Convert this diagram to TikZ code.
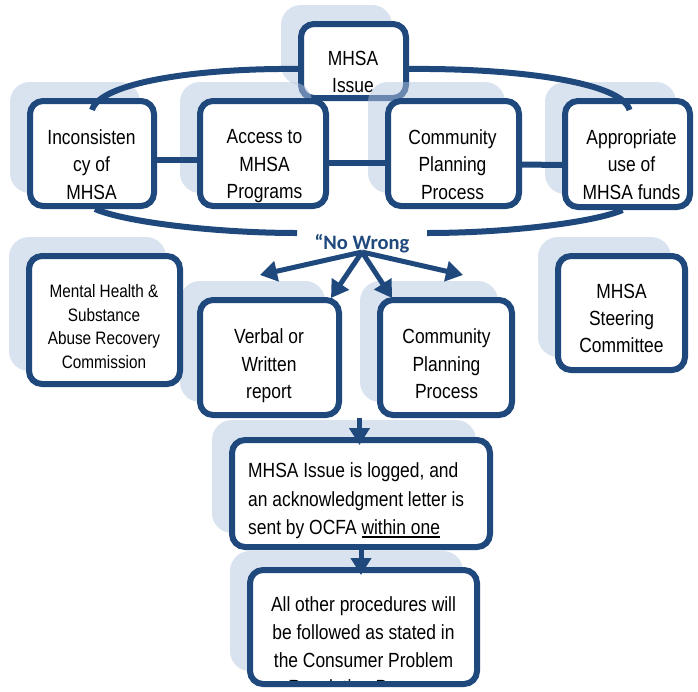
\documentclass[tikz,border=0pt]{standalone}
\usepackage{fontspec}
\setmainfont{Liberation Sans}[FakeStretch=0.85]
\newfontfamily\nwfont{Carlito}
\usetikzlibrary{arrows.meta,calc}
\definecolor{dkblue}{HTML}{1F497D}
\definecolor{shblue}{HTML}{B5C7E1}
\newcommand\myul[1]{\setbox0\hbox{#1}\rlap{\rule[-3pt]{\wd0}{1.7pt}}#1}
\begin{document}
\begin{tikzpicture}[x=1pt,y=-1pt,
  box/.style={draw=dkblue, line width=6pt, fill=white, rounded corners=13pt, inner sep=0pt},
  shad/.style={fill=shblue, fill opacity=0.5, rounded corners=20pt, draw=none, inner sep=0pt},
  txt/.style={inner sep=0pt, align=center, font=\fontsize{20.5}{27.5}\selectfont,
    execute at begin node=\strut, execute at end node=\strut},
  conn/.style={draw=dkblue, line width=6pt},
  arr/.style={draw=dkblue, line width=5pt, -{Triangle[length=17pt,width=20pt]}}]
\path[use as bounding box, fill=white] (0,0) rectangle (698,691);

% top issue box
\node[shad, minimum width=111pt, minimum height=80pt] (issueS) at (336.5,45) {};
\node[box, minimum width=105pt, minimum height=74pt] (issue) at (353.5,61) {};
\node[txt] (isst) at (353,76) {MHSA\\Issue};

% shadows
\node[shad, minimum width=130pt, minimum height=111pt] (incS) at (75,137.5) {};
\node[shad, minimum width=132pt, minimum height=111pt] (accS) at (246,137.5) {};
\node[shad, minimum width=137pt, minimum height=111pt] (cppS) at (436.5,137.5) {};
\node[shad, minimum width=131pt, minimum height=112pt] (appS) at (610.5,138) {};
\node[shad, minimum width=157pt, minimum height=134pt] (mhS) at (87.5,304) {};
\node[shad, minimum width=145pt, minimum height=121pt] (verbS) at (252.5,341.5) {};
\node[shad, minimum width=138pt, minimum height=121pt] (cpp2S) at (429,341.5) {};
\node[shad, minimum width=133pt, minimum height=120pt] (steerS) at (604.5,297) {};
\node[shad, minimum width=264pt, minimum height=113pt] (loggedS) at (344,476.5) {};
\node[shad, minimum width=233pt, minimum height=120pt] (otherS) at (346.5,611) {};

% row 1
\node[box, minimum width=124pt, minimum height=105pt] (inc) at (92,153.5) {};
\node[txt] (inct) at (91.5,168.5) {Inconsisten\\cy of\\MHSA};
\node[box, minimum width=126pt, minimum height=105pt] (acc) at (263,153.5) {};
\node[txt] (acct) at (264.5,168.5) {Access to\\MHSA\\Programs};
\node[box, minimum width=131pt, minimum height=105pt] (cpp) at (453.5,153.5) {};
\node[txt] (cppt) at (452.5,168.5) {Community\\Planning\\Process};
\node[box, minimum width=125pt, minimum height=106pt] (app) at (627.5,154) {};
\node[txt] (appt) at (631.5,168.5) {Appropriate\\use of\\MHSA funds};

% row 2
\node[box, minimum width=151pt, minimum height=128pt] (mh) at (104.5,320) {};
\node[txt, font=\fontsize{18}{23.7}\selectfont] (mht) at (104,330) {Mental Health \&\\Substance\\Abuse Recovery\\Commission};
\node[box, minimum width=139pt, minimum height=115pt] (verb) at (269.5,357.5) {};
\node[txt] (verbt) at (269,367.8) {Verbal or\\Written\\report};
\node[box, minimum width=132pt, minimum height=115pt] (cpp2) at (446,357.5) {};
\node[txt] (cpp2t) at (446.5,367.8) {Community\\Planning\\Process};
\node[box, minimum width=127pt, minimum height=114pt] (steer) at (621.5,313) {};
\node[txt, font=\fontsize{20.5}{27}\selectfont] (steert) at (621.5,322) {MHSA\\Steering\\Committee};

% row 3 and 4
\node[box, minimum width=258pt, minimum height=107pt] (logged) at (361,493.5) {};
\node[txt, align=left, anchor=west, font=\fontsize{20.5}{28.5}\selectfont] (loggedt) at (248,503)
  {MHSA Issue is logged, and\\an acknowledgment letter is\\sent by OCFA \myul{within one}};
\node[box, minimum width=227pt, minimum height=114pt,
  path picture={\node[txt, font=\fontsize{20.5}{27.7}\selectfont] (othert) at ([yshift=-23pt]path picture bounding box.center)
    {All other procedures will\\be followed as stated in\\the Consumer Problem\\Resolution Process};}] (other) at (363.5,627) {};

% ellipse arcs
\coordinate (bl) at (297,233);
\coordinate (br) at (427,233);
\draw[conn] ([yshift=-8pt]issue.west) .. controls (200,68) and (100,82) .. ([yshift=-12pt]inc.north);
\draw[conn] ([yshift=-8pt]issue.east) .. controls (515,68) and (622,82) .. ([xshift=2pt,yshift=-12pt]app.north);
\draw[conn] ([xshift=3pt]inc.south) .. controls (125,222) and (215,233) .. (bl);
\draw[conn] (br) .. controls (510,233) and (595,222) .. ([xshift=-5pt]app.south);

% horizontal connectors
\draw[conn] ([yshift=-6.5pt]inc.east) -- ([yshift=-6.5pt]acc.west);
\draw[conn] ([yshift=-9.5pt]acc.east) -- ([yshift=-9.5pt]cpp.west);
\draw[conn] ([yshift=-11pt]cpp.east) -- ([yshift=-11pt]app.west);

% No wrong door
\node[font=\nwfont\bfseries\fontsize{20.5}{24}\selectfont, text=dkblue, anchor=base, inner sep=0pt] (nw) at (362,249) {“No Wrong};
\coordinate (apex) at (362,252);
\coordinate (t1) at (260,275);
\coordinate (t2) at (331,298);
\coordinate (t3) at (392,298);
\coordinate (t4) at (463,275);
\draw[arr] (apex) -- (t1);
\draw[arr] (apex) -- (t2);
\draw[arr] (apex) -- (t3);
\draw[arr] (apex) -- (t4);

% down arrows
\coordinate (g1) at ($(verb.south east)!0.5!(cpp2.south west)$);
\draw[arr] (g1) -- ($(g1 |- logged.north)+(0,8)$);
\draw[arr] (logged.south) -- ($(logged.south |- other.north)+(0,8)$);
\end{tikzpicture}
\end{document}
